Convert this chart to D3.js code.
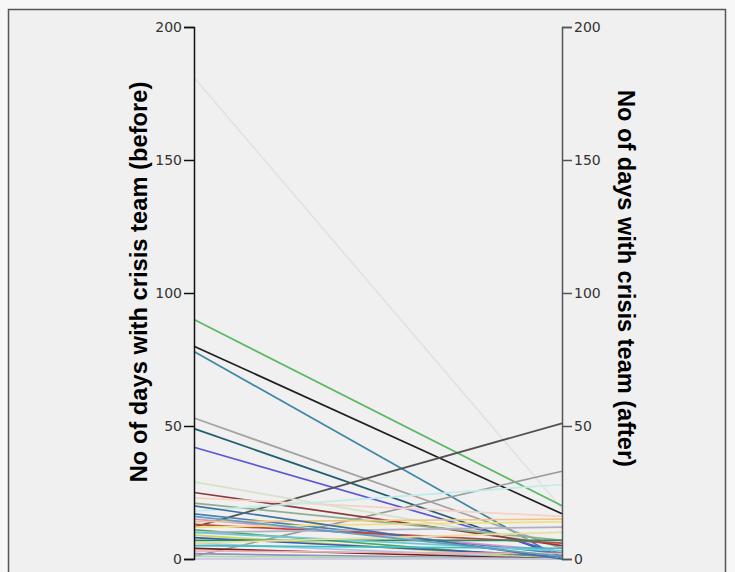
<!DOCTYPE html>
<html>
<head>
<meta charset="utf-8">
<script src="https://cdn.jsdelivr.net/npm/d3@7/dist/d3.min.js"></script>
<style>
  html, body { margin: 0; padding: 0; background: #f7f7f7; }
  svg { display: block; }
</style>
</head>
<body>
<svg id="chart" width="735" height="572"></svg>
<script>
// Data: each case has a "before" and "after" value (days with crisis team)
const before = [181, 90, 80, 78, 53, 49, 42, 12, 1, 29, 25, 23, 21, 18, 17, 15, 14, 13, 12, 11, 10, 9, 8, 7, 6, 5, 4, 3, 2, 1, 0, 10, 20, 6, 16];
const after  = [19,  20, 17, 0,  4,  1,  2,  51, 33, 5, 5,  16, 7,  28, 2,  3,  15, 6,  14, 0,  12, 0, 1, 7, 0, 4, 0, 2, 0, 0, 0, 3, 0, 10, 1];
const colors = ["#e2e2e2", "#5cb865", "#1e1e1e", "#3f86a6", "#a3a3a3", "#1f5f6e", "#5b57d6", "#505050", "#9a9a9a",
                "#d6e2c8", "#8b3a3a", "#f4d2c4", "#8fae90", "#c4eaea", "#4a7fb0", "#d890d0", "#f2c47e", "#c44444",
                "#ece07a", "#45a868", "#b0b0c2", "#c8d862", "#3b5cb0", "#2a8a5a", "#a0c4e8", "#40c0c0", "#7a1f1f",
                "#e8b0b0", "#9090c0", "#b0d8b0", "#c8c0e0", "#70c8d0", "#4070a0", "#e8e0a0", "#60a0c0"];
const tickValues = [0, 50, 100, 150, 200];
const leftTitle = "No of days with crisis team (before)";
const rightTitle = "No of days with crisis team (after)";

const svg = d3.select("#chart");
const xLeft = 194, xRight = 562;

// frame
svg.append("rect").attr("x", 8.5).attr("y", 9.5).attr("width", 717).attr("height", 580)
  .attr("fill", "#f0f0f0").attr("stroke", "#555").attr("stroke-width", 1.5);

const y = d3.scaleLinear().domain([0, 200]).range([559, 27]);

// lines
const cases = before.map((b, i) => ({ b, a: after[i], c: colors[i] }));
svg.append("g").selectAll("line").data(cases).join("line")
  .attr("x1", xLeft).attr("x2", xRight)
  .attr("y1", d => y(d.b)).attr("y2", d => y(d.a))
  .attr("stroke", d => d.c).attr("stroke-width", 1.7);

// axes
const leftAxis = d3.axisLeft(y).tickValues(tickValues).tickSize(10).tickPadding(2);
const rightAxis = d3.axisRight(y).tickValues(tickValues).tickSize(10).tickPadding(2);
const gl = svg.append("g").attr("transform", `translate(${xLeft},0)`).call(leftAxis);
const gr = svg.append("g").attr("transform", `translate(${xRight},0)`).call(rightAxis);
[gl, gr].forEach((g, i) => {
  g.select(".domain").attr("stroke", i === 0 ? "#111" : "#555").attr("stroke-width", 1.5);
  g.selectAll(".tick line").attr("stroke", i === 0 ? "#111" : "#555").attr("stroke-width", 1.5);
  g.selectAll(".tick text").attr("fill", "#333")
    .style("font-family", "'DejaVu Sans', sans-serif").style("font-size", "14px");
});

// titles
function fitTitle(sel, target) {
  let fs = 20;
  sel.style("font-size", fs + "px");
  const len = sel.node().getComputedTextLength();
  fs = fs * target / len;
  sel.style("font-size", fs + "px");
}
const lt = svg.append("text").attr("transform", "translate(139,282) rotate(-90)")
  .attr("text-anchor", "middle").attr("dominant-baseline", "central")
  .style("font-family", "'Liberation Sans', Arial, sans-serif").style("font-weight", "bold")
  .attr("fill", "#000").text(leftTitle);
fitTitle(lt, 401);
const rt = svg.append("text").attr("transform", "translate(626,278.5) rotate(90)")
  .attr("text-anchor", "middle").attr("dominant-baseline", "central")
  .style("font-family", "'Liberation Sans', Arial, sans-serif").style("font-weight", "bold")
  .attr("fill", "#000").text(rightTitle);
fitTitle(rt, 377);
</script>
</body>
</html>
